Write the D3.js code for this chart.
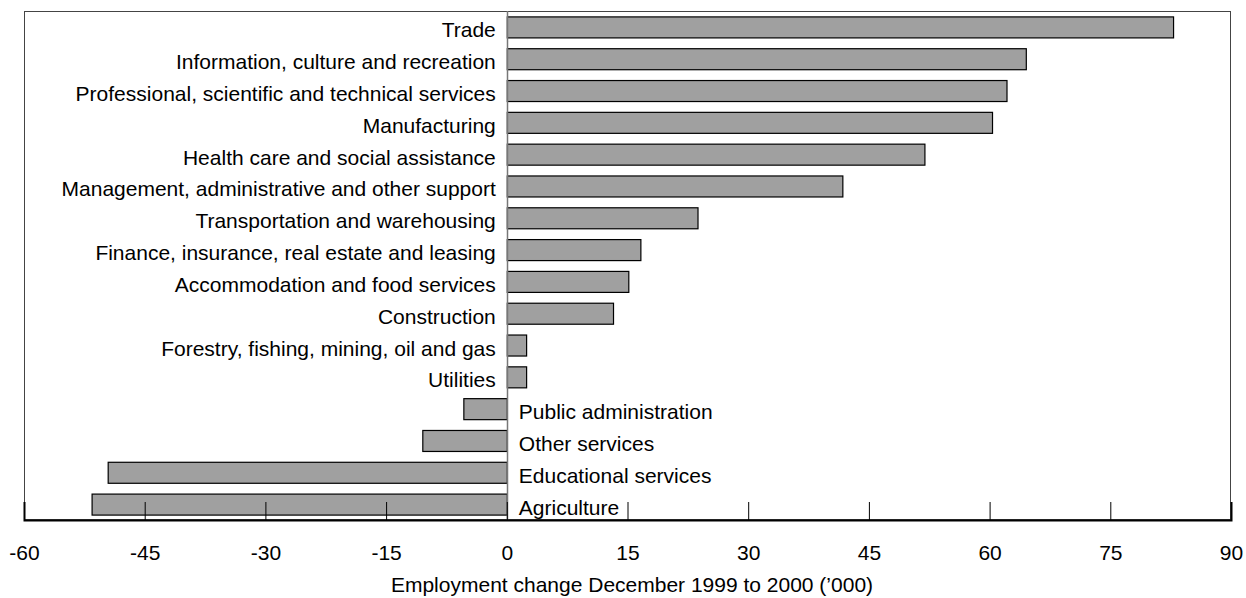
<!DOCTYPE html>
<html><head><meta charset="utf-8">
<script src="https://cdn.jsdelivr.net/npm/d3@7"></script>
<style>body{margin:0;background:#fff}svg{display:block}text{font-family:"Liberation Sans",Arial,sans-serif}</style>
</head><body>
<script>
const categories = ["Trade","Information, culture and recreation","Professional, scientific and technical services","Manufacturing","Health care and social assistance","Management, administrative and other support","Transportation and warehousing","Finance, insurance, real estate and leasing","Accommodation and food services","Construction","Forestry, fishing, mining, oil and gas","Utilities","Public administration","Other services","Educational services","Agriculture"];
const values = [82.8,64.5,62.1,60.3,51.9,41.7,23.7,16.6,15.1,13.2,2.4,2.4,-5.4,-10.5,-49.6,-51.6];
const tickValues = [-60,-45,-30,-15,0,15,30,45,60,75,90];
const axisTitle = "Employment change December 1999 to 2000 (\u2019000)";

const W=1246,H=598, FS=21;
const m={l:24,r:15,t:11,b:78};
const svg=d3.select("body").append("svg").attr("width",W).attr("height",H);
const x=d3.scaleLinear().domain([-60,90]).range([m.l,W-m.r]);
const y=d3.scaleBand().domain(categories).range([m.t,H-m.b]).paddingInner(0.34).paddingOuter(0.17);
const iw=W-m.r-m.l, ih=H-m.b-m.t;

// frame
svg.append("rect").attr("x",m.l+0.5).attr("y",m.t+0.5).attr("width",iw-1).attr("height",ih-1)
  .attr("fill","none").attr("stroke","#444").attr("stroke-width",1);

// bars
svg.selectAll("rect.bar").data(categories).join("rect").attr("class","bar")
  .attr("x",(d,i)=>Math.min(x(0),x(values[i]))+0.5)
  .attr("width",(d,i)=>Math.abs(x(values[i])-x(0)))
  .attr("y",d=>y(d)+0.5).attr("height",y.bandwidth())
  .attr("fill","#a0a0a0").attr("stroke","#000").attr("stroke-width",1.2);

// zero line
svg.append("line").attr("x1",Math.round(x(0))+0.5).attr("x2",Math.round(x(0))+0.5)
  .attr("y1",m.t).attr("y2",H-m.b).attr("stroke","#777").attr("stroke-width",1.5);

// bottom axis
const ax=d3.axisBottom(x).tickValues(tickValues).tickSize(-18).tickFormat(d=>String(d));
const g=svg.append("g").attr("transform",`translate(0,${H-m.b})`).call(ax);
g.select(".domain").attr("stroke","#000").attr("stroke-width",2);
g.selectAll(".tick line").attr("stroke","#000").attr("stroke-width",1);
g.selectAll(".tick text").attr("font-size",FS).attr("fill","#000").attr("y",40).attr("dy",null)
  .style("font-family","'Liberation Sans',Arial,sans-serif");

svg.append("text").attr("x",632).attr("y",592).attr("text-anchor","middle")
  .attr("font-size",FS).attr("fill","#000").text(axisTitle);

// category labels
svg.selectAll("text.lab").data(categories).join("text").attr("class","lab")
  .attr("x",(d,i)=>values[i]>=0?x(0)-11:x(0)+12)
  .attr("y",d=>y(d)+y.bandwidth()/2).attr("dy","0.5em")
  .attr("text-anchor",(d,i)=>values[i]>=0?"end":"start")
  .attr("font-size",FS).attr("fill","#000").text(d=>d);
</script>
</body></html>
